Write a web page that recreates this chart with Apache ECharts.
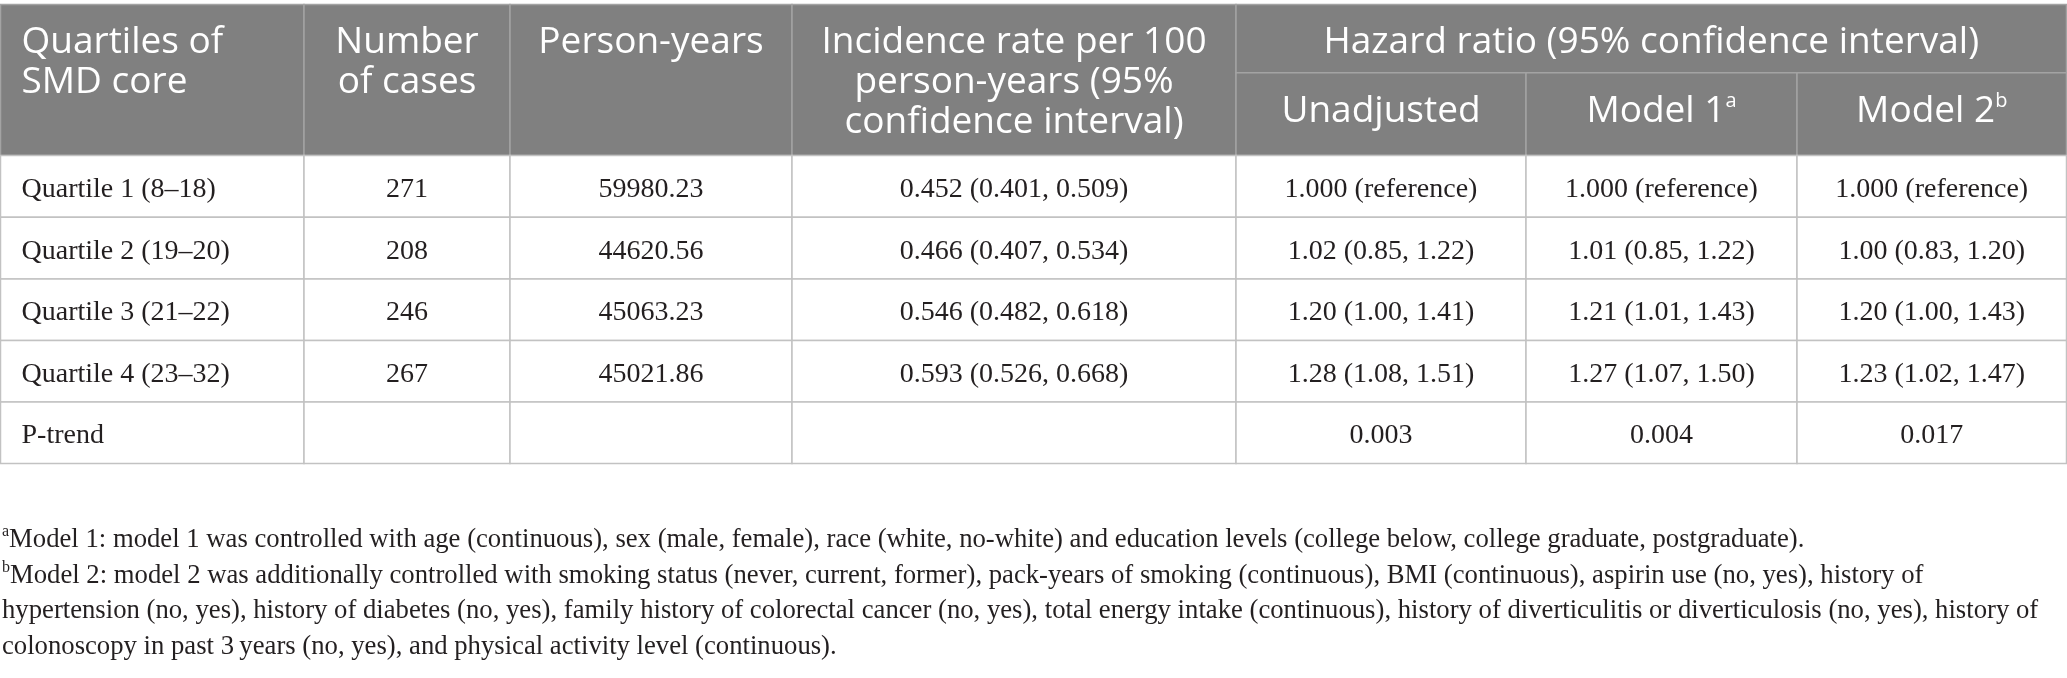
<!DOCTYPE html>
<html>
<head>
<meta charset="utf-8">
<script src="https://cdn.jsdelivr.net/npm/echarts@6/dist/echarts.min.js"></script>
<style>
html, body { margin: 0; padding: 0; background: #fff; }
#table { width: 2067px; height: 678px; }
</style>
</head>
<body>
<div id="table"></div>
<script>
// table content
var headerCols = ['Quartiles of\nSMD core', 'Number\nof cases', 'Person-years', 'Incidence rate per 100\nperson-years (95%\nconfidence interval)'];
var hrTitle = 'Hazard ratio (95% confidence interval)';
var hrCols = ['Unadjusted', 'Model 1', 'Model 2'];
var hrMarks = ['', 'a', 'b'];

var rowLabels = ['Quartile 1 (8\u201318)', 'Quartile 2 (19\u201320)', 'Quartile 3 (21\u201322)', 'Quartile 4 (23\u201332)', 'P-trend'];
var numberOfCases = ['271', '208', '246', '267', ''];
var personYears = ['59980.23', '44620.56', '45063.23', '45021.86', ''];
var incidenceRate = ['0.452 (0.401, 0.509)', '0.466 (0.407, 0.534)', '0.546 (0.482, 0.618)', '0.593 (0.526, 0.668)', ''];
var hrUnadjusted = ['1.000 (reference)', '1.02 (0.85, 1.22)', '1.20 (1.00, 1.41)', '1.28 (1.08, 1.51)', '0.003'];
var hrModel1 = ['1.000 (reference)', '1.01 (0.85, 1.22)', '1.21 (1.01, 1.43)', '1.27 (1.07, 1.50)', '0.004'];
var hrModel2 = ['1.000 (reference)', '1.00 (0.83, 1.20)', '1.20 (1.00, 1.43)', '1.23 (1.02, 1.47)', '0.017'];

var footMarks = ['a', 'b', '', ''];
var footLines = [
    'Model 1: model 1 was controlled with age (continuous), sex (male, female), race (white, no-white) and education levels (college below, college graduate, postgraduate).',
    'Model 2: model 2 was additionally controlled with smoking status (never, current, former), pack-years of smoking (continuous), BMI (continuous), aspirin use (no, yes), history of',
    'hypertension (no, yes), history of diabetes (no, yes), family history of colorectal cancer (no, yes), total energy intake (continuous), history of diverticulitis or diverticulosis (no, yes), history of',
    'colonoscopy in past 3\u2009years (no, yes), and physical activity level (continuous).'
];

// layout
var colEdges = [0.5, 304, 510, 792, 1236, 1526, 1797, 2066.5];
var headTop = 4.5, headSplit = 72.7, headBottom = 155.5;
var rowEdges = [155.5, 217.3, 279, 340.5, 402, 463.5];

var HEAD_BG = '#808080', HEAD_LINE = '#a3a3a3', BODY_LINE = '#c2c2c2';
var SANS = '"Open Sans", "Noto Sans", sans-serif';
var SERIF = '"Liberation Serif", "DejaVu Serif", serif';
var HEAD_SIZE = 37, HEAD_LH = 40, BODY_SIZE = 28, FOOT_SIZE = 26.7;

var cells = [];
headerCols.forEach(function (t, i) {
    cells.push({x0: colEdges[i], x1: colEdges[i + 1], y0: headTop, y1: headBottom, text: t, head: true,
        align: i === 0 ? 'left' : 'center', valign: 'top'});
});
cells.push({x0: colEdges[4], x1: colEdges[7], y0: headTop, y1: headSplit, text: hrTitle, head: true, align: 'center', valign: 'top'});
hrCols.forEach(function (t, i) {
    cells.push({x0: colEdges[4 + i], x1: colEdges[5 + i], y0: headSplit, y1: headBottom,
        text: hrMarks[i] ? t + '{sup|' + hrMarks[i] + '}' : t, head: true, align: 'center', valign: 'middle'});
});
var bodyCols = [rowLabels, numberOfCases, personYears, incidenceRate, hrUnadjusted, hrModel1, hrModel2];
rowLabels.forEach(function (r, ri) {
    bodyCols.forEach(function (col, ci) {
        cells.push({x0: colEdges[ci], x1: colEdges[ci + 1], y0: rowEdges[ri], y1: rowEdges[ri + 1], text: col[ri],
            head: false, align: ci === 0 ? 'left' : 'center', valign: 'middle'});
    });
});

function renderCell(params, api) {
    var c = cells[api.value(4)];
    var tl = api.coord([api.value(0), api.value(2)]);
    var br = api.coord([api.value(1), api.value(3)]);
    var w = br[0] - tl[0], h = br[1] - tl[1];
    var tx = c.align === 'left' ? tl[0] + 21 : tl[0] + w / 2;
    var ty = c.valign === 'top' ? tl[1] + 18 : tl[1] + h / 2 + (c.head ? -3 : 3);
    return {
        type: 'group',
        children: [{
            type: 'rect',
            shape: {x: tl[0], y: tl[1], width: w, height: h},
            style: {fill: c.head ? HEAD_BG : '#fff', stroke: c.head ? HEAD_LINE : BODY_LINE, lineWidth: 1.5}
        }, {
            type: 'text',
            x: tx, y: ty,
            style: {
                text: c.text,
                fill: c.head ? '#fff' : '#231f20',
                fontFamily: c.head ? SANS : SERIF,
                fontSize: c.head ? HEAD_SIZE : BODY_SIZE,
                lineHeight: c.head ? HEAD_LH : BODY_SIZE * 1.2,
                align: c.align,
                verticalAlign: c.valign,
                rich: {sup: {fontFamily: SANS, fontSize: 20, fill: '#fff', verticalAlign: 'top', lineHeight: HEAD_LH}}
            }
        }]
    };
}

var footTop = 540, footStep = 35.5;
var graphics = footLines.map(function (line, i) {
    return {
        type: 'text',
        x: 2, y: footTop + i * footStep,
        style: {
            text: (footMarks[i] ? '{sup|' + footMarks[i] + '}' : '') + line,
            fill: '#231f20',
            fontFamily: SERIF,
            fontSize: FOOT_SIZE,
            lineHeight: 32,
            verticalAlign: 'middle',
            rich: {sup: {fontFamily: SERIF, fontSize: 16, fill: '#231f20', verticalAlign: 'top', lineHeight: 32}}
        }
    };
});

var chart = echarts.init(document.getElementById('table'));
chart.setOption({
    animation: false,
    grid: {left: 0, right: 0, top: 0, bottom: 0},
    xAxis: {type: 'value', min: 0, max: 2067, show: false},
    yAxis: {type: 'value', min: 0, max: 678, inverse: true, show: false},
    series: [{
        type: 'custom',
        renderItem: renderCell,
        encode: {x: [0, 1], y: [2, 3]},
        data: cells.map(function (c, i) { return [c.x0, c.x1, c.y0, c.y1, i]; })
    }],
    graphic: graphics
});
</script>
</body>
</html>
